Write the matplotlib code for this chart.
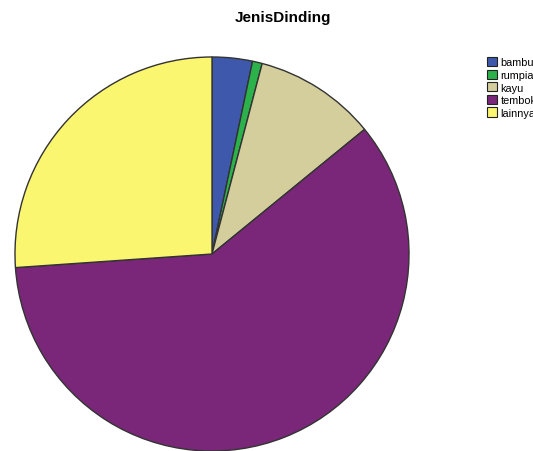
import matplotlib.pyplot as plt

# Wall type shares (percent)
labels = ['bambu', 'rumpia', 'kayu', 'tembok', 'lainnya']
values = [3.3, 0.8, 10.0, 59.8, 26.1]
colors = ['#3e58ac', '#2bb24a', '#d3ce9b', '#7b2779', '#fbf66f']

fig = plt.figure(figsize=(5.33, 4.52), dpi=100)
W, H = 533, 452

# pie axes: center (212, 255) px, radius 198 px
cx, cy, r = 212, 255, 198
ax = fig.add_axes([(cx - r) / W, (H - cy - r) / H, 2 * r / W, 2 * r / H])
wedges, _ = ax.pie(values, colors=colors, startangle=90, counterclock=False,
                   wedgeprops=dict(edgecolor='#333333', linewidth=1.0))
ax.set_xlim(-1.005, 1.005)
ax.set_ylim(-1.005, 1.005)
ax.set_aspect('equal')
ax.axis('off')

fig.text(283 / W, 1 - 18 / H, 'JenisDinding', ha='center', va='center',
         fontsize=11, fontweight='bold', family='Liberation Sans')

leg = fig.legend(wedges, labels, loc='upper left',
                 bbox_to_anchor=(487 / W, 1 - 58 / H), frameon=False,
                 prop={'family': 'Liberation Sans', 'size': 7.8},
                 handlelength=0.95, handleheight=0.95, handletextpad=0.3,
                 labelspacing=0.2, borderpad=0, borderaxespad=0)
for h in leg.legend_handles:
    h.set_edgecolor('#222222')
    h.set_linewidth(0.8)

fig.savefig('out.png', dpi=100)
